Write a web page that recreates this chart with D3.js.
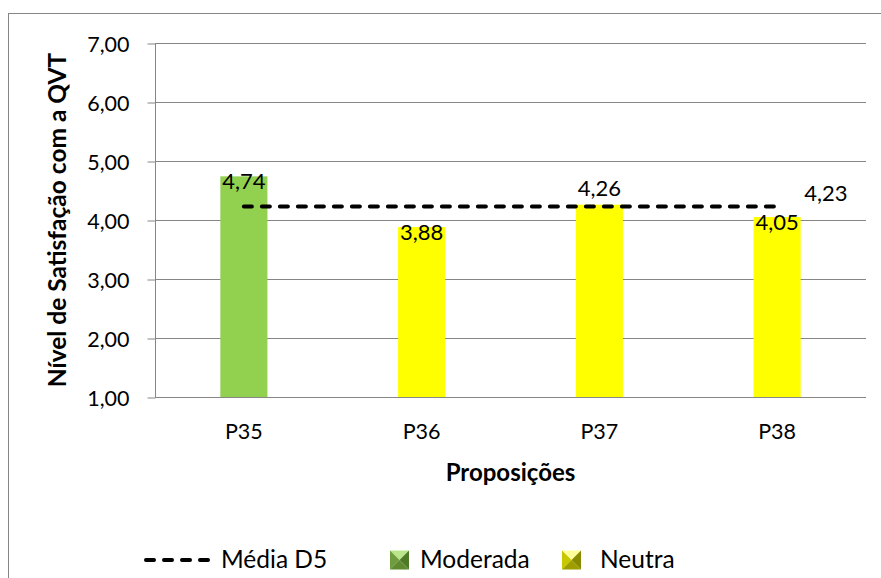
<!DOCTYPE html>
<html><head><meta charset="utf-8">
<script src="https://cdn.jsdelivr.net/npm/d3@7"></script>
<style>body{margin:0;background:#fff}svg{display:block}text{font-family:Lato,"Open Sans",sans-serif;fill:#000}</style>
</head><body><svg id="c" width="881" height="578"></svg>
<script>
const categories = ["P35","P36","P37","P38"];
const values = [4.74,3.88,4.26,4.05];
const classes = ["Moderada","Neutra","Neutra","Neutra"];
const labelPlace = ["inside","inside","outside","inside"];
const meanValue = 4.23;
const meanLabel = "Média D5";
const yTicks = [1,2,3,4,5,6,7];
const yTitle = "Nível de Satisfação com a QVT";
const xTitle = "Proposições";
const legendClasses = ["Moderada","Neutra"];

const colors = {Moderada:"#92D050", Neutra:"#FFFF00"};
const fmt = v => d3.format(".2f")(v).replace(".", ",");

const svg = d3.select("#c");
const L=155, R=866, T=43, B=397;

svg.append("rect").attr("x",8.5).attr("y",13.5).attr("width",900).attr("height",600)
  .attr("fill","none").attr("stroke","#868686").attr("stroke-width",1);

const x = d3.scaleBand().domain(categories).range([L,R]).paddingInner(0.735).paddingOuter(0.3675);
const y = d3.scaleLinear().domain([1,7]).range([B,T]);

svg.append("g").selectAll("line").data(yTicks.filter(t=>t>1)).join("line")
  .attr("x1",L).attr("x2",R).attr("y1",d=>Math.round(y(d))+0.5).attr("y2",d=>Math.round(y(d))+0.5)
  .attr("stroke","#868686").attr("stroke-width",1);

const yAxis = d3.axisLeft(y).tickValues(yTicks).tickFormat(fmt).tickSize(8).tickPadding(18);
const gy = svg.append("g").attr("transform",`translate(${L+0.5},0.5)`).call(yAxis);
gy.select(".domain").attr("stroke","#868686").attr("d",`M-0,${B}V${T}`);
gy.selectAll(".tick line").attr("stroke","#868686");
gy.selectAll(".tick text").attr("font-size",21.5).attr("font-family","Lato").attr("dy","0.36em");

svg.append("g").selectAll("rect").data(values).join("rect")
  .attr("x",(d,i)=>x(categories[i])).attr("width",x.bandwidth())
  .attr("y",d=>y(d)).attr("height",d=>B-y(d))
  .attr("fill",(d,i)=>colors[classes[i]]);

const xAxis = d3.axisBottom(x).tickSize(0).tickPadding(26);
const gx = svg.append("g").attr("transform",`translate(0,${B+0.5})`).call(xAxis);
gx.select(".domain").attr("stroke","#868686").attr("d",`M${L},0H${R}`);
gx.selectAll(".tick text").attr("font-size",21.5).attr("font-family","Lato");

const cx = c => x(c)+x.bandwidth()/2;
svg.append("line").attr("x1",cx(categories[0])).attr("x2",cx(categories[categories.length-1]))
  .attr("y1",y(meanValue)).attr("y2",y(meanValue))
  .attr("stroke","#000").attr("stroke-width",4).attr("stroke-dasharray","8,10").attr("stroke-linecap","round");
svg.append("text").attr("x",cx(categories[categories.length-1])+27).attr("y",y(meanValue)-5)
  .attr("font-size",22).text(fmt(meanValue));

svg.append("g").selectAll("text").data(values).join("text")
  .attr("x",(d,i)=>cx(categories[i])).attr("y",(d,i)=>labelPlace[i]==="inside"? y(d)+13 : y(d)-9)
  .attr("text-anchor","middle").attr("font-size",22).text(d=>fmt(d));

svg.append("text").attr("transform",`translate(66,${(T+B)/2}) rotate(-90)`).attr("text-anchor","middle")
  .attr("font-size",24.5).attr("font-weight","bold").text(yTitle);
svg.append("text").attr("x",(L+R)/2).attr("y",481).attr("text-anchor","middle")
  .attr("font-size",24).attr("font-weight","bold").text(xTitle);

const ly = 560;
const lg = svg.append("g");
lg.append("line").attr("x1",146).attr("x2",208).attr("y1",ly).attr("y2",ly)
  .attr("stroke","#000").attr("stroke-width",4).attr("stroke-dasharray","8,10").attr("stroke-linecap","round");
lg.append("text").attr("x",221).attr("y",ly+8).attr("font-size",24.5).text(meanLabel);

const shades = {
  Moderada:{top:"#b9e68a",left:"#6f9c3c",right:"#4e7a26",bottom:"#5f8a30"},
  Neutra:{top:"#ffff99",left:"#c8c800",right:"#8a8a00",bottom:"#9e9e00"}
};
const iconX = [390, 562];
const textX = [420, 600];
legendClasses.forEach((c,i)=>{
  const s=19, x0=iconX[i], y0=ly-9.5, mx=x0+s/2, my=y0+s/2;
  const sh=shades[c];
  const g=lg.append("g");
  g.append("path").attr("d",`M${x0},${y0}L${x0+s},${y0}L${mx},${my}Z`).attr("fill",sh.top);
  g.append("path").attr("d",`M${x0},${y0}L${x0},${y0+s}L${mx},${my}Z`).attr("fill",sh.left);
  g.append("path").attr("d",`M${x0+s},${y0}L${x0+s},${y0+s}L${mx},${my}Z`).attr("fill",sh.right);
  g.append("path").attr("d",`M${x0},${y0+s}L${x0+s},${y0+s}L${mx},${my}Z`).attr("fill",sh.bottom);
  lg.append("text").attr("x",textX[i]).attr("y",ly+8).attr("font-size",24.5).text(c);
});
</script></body></html>
